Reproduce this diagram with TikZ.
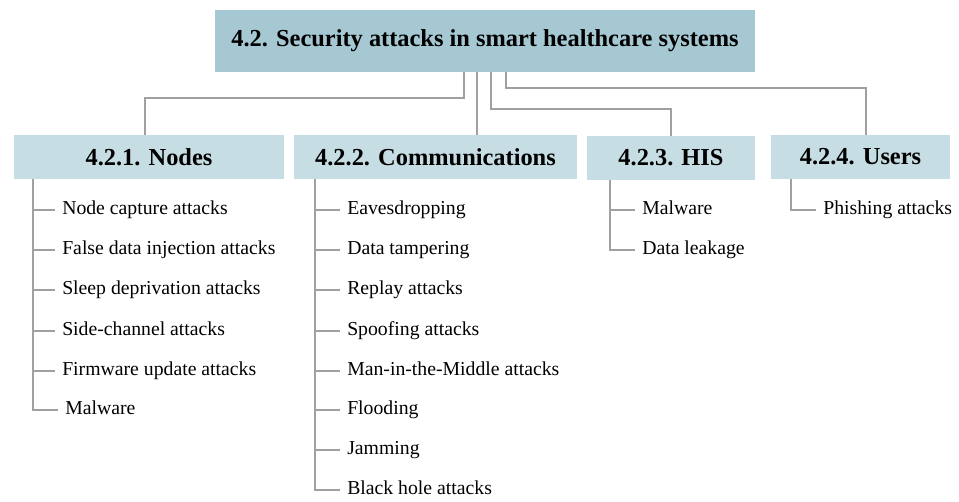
\documentclass[tikz,border=0pt]{standalone}
\usepackage{fontspec}
\setmainfont{Liberation Serif}
\definecolor{mainfill}{RGB}{166,200,211}
\definecolor{subfill}{RGB}{198,221,228}
\definecolor{linegray}{RGB}{160,160,160}
\begin{document}
\begin{tikzpicture}[x=0.75pt,y=-0.75pt]
\useasboundingbox (0,0) rectangle (959,501);
\tikzset{
  mainbox/.style={fill=mainfill, inner sep=0pt, minimum width=405pt, minimum height=46.5pt,
    font=\fontsize{18.3}{22}\selectfont\bfseries},
  subbox/.style={fill=subfill, inner sep=0pt, minimum height=33pt,
    font=\fontsize{18.3}{22}\selectfont\bfseries},
  item/.style={anchor=west, inner xsep=5.25pt, inner ysep=0pt,
    text height=10.4pt, text depth=3.6pt,
    font=\fontsize{14.8}{18}\selectfont},
  conn/.style={draw=linegray, line width=1.4pt}
}
% main box
\node[mainbox] (main) at (485,41) {4.2. Security attacks in smart healthcare systems};
% sub boxes
\node[subbox, minimum width=202.5pt] (nodes) at (149,157) {4.2.1. Nodes};
\node[subbox, minimum width=212.25pt] (comm) at (435.5,157) {4.2.2. Communications};
\node[subbox, minimum width=126pt] (his) at (671,158) {4.2.3. HIS};
\node[subbox, minimum width=134.25pt] (users) at (860.5,157) {4.2.4. Users};
% connectors from main box
\draw[conn] (464,0 |- main.south) |- (145,98) -- (145,0 |- nodes.north);
\draw[conn] (477,0 |- main.south) -- (477,0 |- comm.north);
\draw[conn] (491,0 |- main.south) |- (671,109) -- (his.north);
\draw[conn] (506,0 |- main.south) |- (866,88) -- (866,0 |- users.north);
% Nodes items
\node[item] (n1) at (55,210) {Node capture attacks};
\node[item] (n2) at (55,250) {False data injection attacks};
\node[item] (n3) at (55,290) {Sleep deprivation attacks};
\node[item] (n4) at (55,331) {Side-channel attacks};
\node[item] (n5) at (55,371) {Firmware update attacks};
\node[item] (n6) at (58,410) {Malware};
\draw[conn] (33,0 |- nodes.south) |- (n6.west);
\foreach \n in {n1,n2,n3,n4,n5}{\draw[conn] (33,0 |- \n.west) -- (\n.west);}
% Communications items
\node[item] (c1) at (340,210) {Eavesdropping};
\node[item] (c2) at (340,250) {Data tampering};
\node[item] (c3) at (340,290) {Replay attacks};
\node[item] (c4) at (340,331) {Spoofing attacks};
\node[item] (c5) at (340,371) {Man-in-the-Middle attacks};
\node[item] (c6) at (340,410) {Flooding};
\node[item] (c7) at (340,450) {Jamming};
\node[item] (c8) at (340,490) {Black hole attacks};
\draw[conn] (315,0 |- comm.south) |- (c8.west);
\foreach \n in {c1,c2,c3,c4,c5,c6,c7}{\draw[conn] (315,0 |- \n.west) -- (\n.west);}
% HIS items
\node[item] (h1) at (635,210) {Malware};
\node[item] (h2) at (635,250) {Data leakage};
\draw[conn] (610,0 |- his.south) |- (h2.west);
\draw[conn] (610,0 |- h1.west) -- (h1.west);
% Users items
\node[item] (u1) at (816,210) {Phishing attacks};
\draw[conn] (791,0 |- users.south) |- (u1.west);
\end{tikzpicture}
\end{document}
